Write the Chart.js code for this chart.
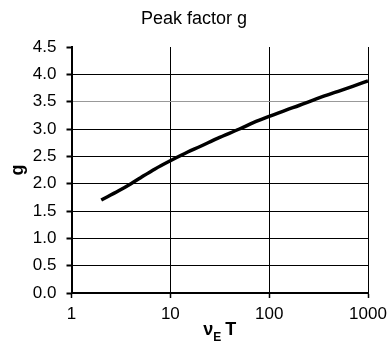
<!DOCTYPE html>
<html>
<head>
<meta charset="utf-8">
<script src="https://cdn.jsdelivr.net/npm/chart.js@4.4.0/dist/chart.umd.min.js"></script>
<style>
  html, body { margin: 0; padding: 0; background: #fff; }
  #wrap { width: 388px; height: 344px; }
</style>
</head>
<body>
<div id="wrap"><canvas id="c" width="388" height="344"></canvas></div>
<script>
// Data
const nuT = [2, 3, 4, 5, 7, 10, 15, 20, 30, 50, 70, 100, 150, 200, 300, 500, 700, 1000];
const gValues = [1.70, 1.87, 2.00, 2.11, 2.27, 2.42, 2.58, 2.68, 2.83, 3.00, 3.12, 3.23, 3.35, 3.43, 3.55, 3.69, 3.78, 3.88];
const xTicks = [1, 10, 100, 1000];
const yMin = 0, yMax = 4.5, yStep = 0.5;
const titleText = 'Peak factor g';
const yTitle = 'g';

const points = nuT.map((v, i) => ({ x: v, y: gValues[i] }));
const FONT = 'Arial, "Liberation Sans", sans-serif';

const xTitlePlugin = {
  id: 'xTitle',
  afterDraw(chart) {
    const ctx = chart.ctx;
    const xs = chart.scales.x;
    const cx = (xs.left + xs.right) / 2;
    const base = 335;
    ctx.save();
    ctx.fillStyle = '#000';
    ctx.textBaseline = 'alphabetic';
    ctx.textAlign = 'left';
    const big = 'bold 18px ' + FONT;
    const small = 'bold 12px ' + FONT;
    ctx.font = big;
    const wNu = ctx.measureText('ν').width;
    const wT = ctx.measureText('T').width;
    ctx.font = small;
    const wE = ctx.measureText('E').width;
    const gap = 4;
    const total = wNu + wE + gap + wT;
    let x = cx - total / 2;
    ctx.font = big;
    ctx.fillText('ν', x, base);
    x += wNu;
    ctx.font = small;
    ctx.fillText('E', x, base + 6);
    x += wE + gap;
    ctx.font = big;
    ctx.fillText('T', x, base);
    ctx.restore();
  }
};

new Chart(document.getElementById('c'), {
  type: 'line',
  data: {
    datasets: [{
      data: points,
      borderColor: '#000',
      borderWidth: 3.5,
      pointRadius: 0,
      fill: false,
      cubicInterpolationMode: 'monotone'
    }]
  },
  options: {
    responsive: false,
    animation: false,
    devicePixelRatio: 1,
    layout: { padding: 0 },
    plugins: {
      legend: { display: false },
      tooltip: { enabled: false },
      title: {
        display: true,
        text: titleText,
        color: '#000',
        font: { family: FONT, size: 18, weight: 'normal', lineHeight: 1.2 },
        padding: { top: 8.2, bottom: 17.2 }
      }
    },
    scales: {
      x: {
        type: 'logarithmic',
        min: 1,
        max: 1000,
        afterBuildTicks(scale) { scale.ticks = xTicks.map(v => ({ value: v })); },
        afterFit(scale) { scale.height = 51; scale.paddingRight = 20; scale.paddingLeft = 0; },
        border: { display: true, color: '#000', width: 2 },
        grid: { color: '#000', lineWidth: 1, tickColor: '#000', tickWidth: 1.5, tickLength: 5, drawTicks: true },
        ticks: {
          color: '#000',
          padding: 6,
          maxRotation: 0,
          autoSkip: false,
          font: { family: FONT, size: 17 },
          callback: (v) => String(v)
        },
        title: { display: false }
      },
      y: {
        min: yMin,
        max: yMax,
        afterFit(scale) { scale.width = 71.5; },
        border: { display: true, color: '#000', width: 2 },
        grid: {
          color: (ctx) => {
            const v = ctx.tick ? ctx.tick.value : null;
            if (v === yMax) return 'rgba(0,0,0,0)';
            if (Math.abs(v - 3.5) < 1e-9) return '#999';
            return '#000';
          },
          lineWidth: 1,
          tickColor: '#000',
          tickWidth: 2,
          tickLength: 5,
          drawTicks: true
        },
        ticks: {
          stepSize: yStep,
          color: '#000',
          padding: 10,
          font: { family: FONT, size: 17 },
          callback: (v) => Number(v).toFixed(1)
        },
        title: {
          display: true,
          text: yTitle,
          color: '#000',
          font: { family: FONT, size: 18, weight: 'bold', lineHeight: 1.2 },
          padding: { top: 7, bottom: 0 }
        }
      }
    }
  },
  plugins: [xTitlePlugin]
});
</script>
</body>
</html>
